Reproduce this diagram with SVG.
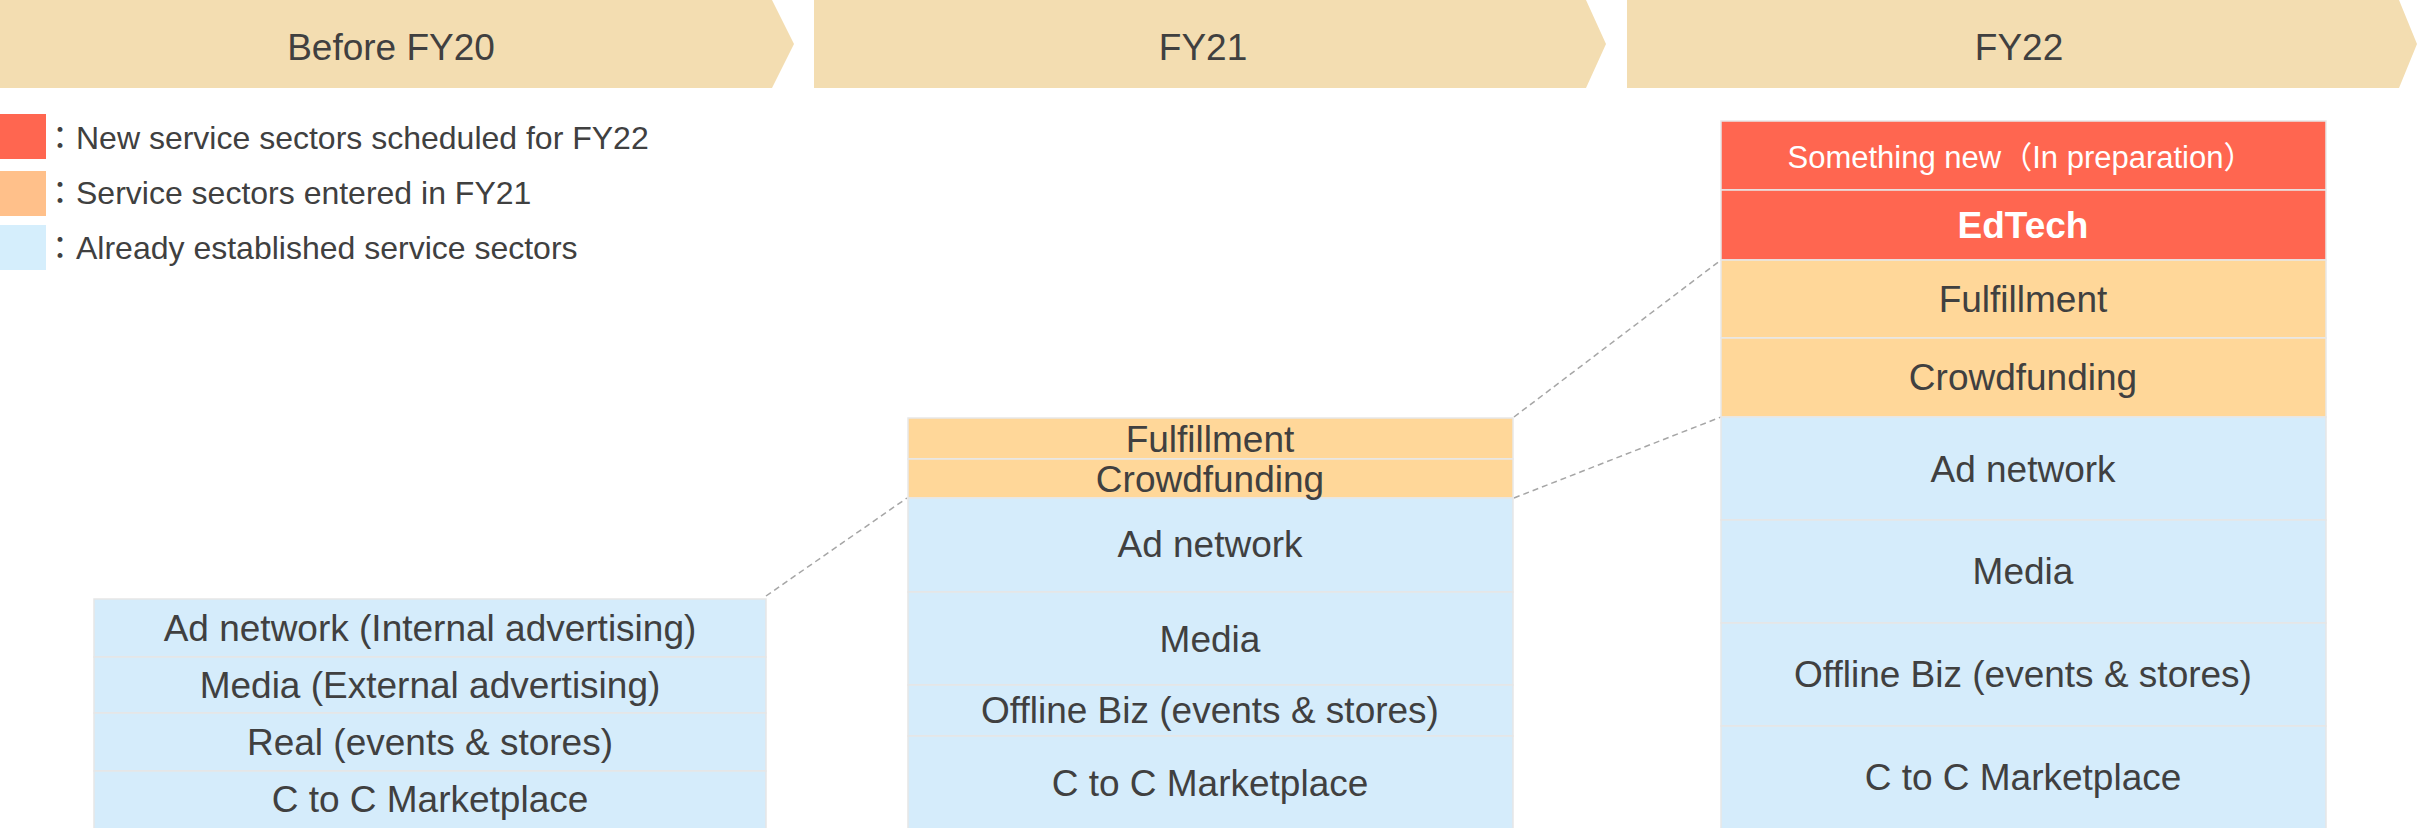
<svg xmlns="http://www.w3.org/2000/svg" width="2417" height="828" viewBox="0 0 2417 828">
<style>
text{font-family:"Liberation Sans",Arial,"Noto Sans CJK JP",sans-serif;fill:#404040;}
.hdr{fill:#F3DDB1;}
.hdrt{font-size:37px;text-anchor:middle;}
.leg{font-size:32px;}
.t{font-size:37px;text-anchor:middle;}
.w{fill:#FFFFFF;}
.red{fill:#FF6650;stroke:#E8E8E8;stroke-width:1.5;}
.org{fill:#FFD799;stroke:#E8E8E8;stroke-width:1.5;}
.blu{fill:#D5ECFB;stroke:#E6E6E6;stroke-width:1.5;}
.dash{stroke:#A6A6A6;stroke-width:1.5;stroke-dasharray:6 4;fill:none;}
</style>
<g id="headers">
<g id="hdr-fy20"><polygon class="hdr" points="0,0 772,0 794,44 772,88 0,88"/><text class="hdrt" x="391" y="60">Before FY20</text></g>
<g id="hdr-fy21"><polygon class="hdr" points="814,0 1586,0 1606,44 1586,88 814,88"/><text class="hdrt" x="1203" y="60">FY21</text></g>
<g id="hdr-fy22"><polygon class="hdr" points="1627,0 2399,0 2417,44 2399,88 1627,88"/><text class="hdrt" x="2019" y="60">FY22</text></g>
</g>
<g id="legend">
<rect x="0" y="114" width="46" height="45" fill="#FF6650"/>
<text class="leg" x="44" y="149">：New service sectors scheduled for FY22</text>
<rect x="0" y="171" width="46" height="45" fill="#FFC08A"/>
<text class="leg" x="44" y="204">：Service sectors entered in FY21</text>
<rect x="0" y="225" width="46" height="45" fill="#D5EEFC"/>
<text class="leg" x="44" y="259">：Already established service sectors</text>
</g>
<g id="connectors">
<line class="dash" x1="766" y1="596" x2="907" y2="498"/>
<line class="dash" x1="1514" y1="417" x2="1721" y2="260"/>
<line class="dash" x1="1514" y1="498" x2="1721" y2="417"/>
</g>
<g id="fy20">
<rect class="blu" x="94" y="599" width="672" height="58"/>
<rect class="blu" x="94" y="657" width="672" height="56"/>
<rect class="blu" x="94" y="713" width="672" height="58"/>
<rect class="blu" x="94" y="771" width="672" height="58"/>
<text class="t" x="430" y="641">Ad network (Internal advertising)</text>
<text class="t" x="430" y="698">Media (External advertising)</text>
<text class="t" x="430" y="755">Real (events &amp; stores)</text>
<text class="t" x="430" y="812">C to C Marketplace</text>
</g>
<g id="fy21">
<rect class="org" x="908" y="418" width="605" height="41"/>
<rect class="org" x="908" y="459" width="605" height="39"/>
<rect class="blu" x="908" y="498" width="605" height="94"/>
<rect class="blu" x="908" y="592" width="605" height="93"/>
<rect class="blu" x="908" y="685" width="605" height="51"/>
<rect class="blu" x="908" y="736" width="605" height="93"/>
<text class="t" x="1210" y="452">Fulfillment</text>
<text class="t" x="1210" y="492">Crowdfunding</text>
<text class="t" x="1210" y="557">Ad network</text>
<text class="t" x="1210" y="652">Media</text>
<text class="t" x="1210" y="723">Offline Biz (events &amp; stores)</text>
<text class="t" x="1210" y="796">C to C Marketplace</text>
</g>
<g id="fy22">
<rect class="red" x="1721" y="121" width="605" height="69"/>
<rect class="red" x="1721" y="190" width="605" height="70"/>
<rect class="org" x="1721" y="260" width="605" height="78"/>
<rect class="org" x="1721" y="338" width="605" height="79"/>
<rect class="blu" x="1721" y="417" width="605" height="103"/>
<rect class="blu" x="1721" y="520" width="605" height="103"/>
<rect class="blu" x="1721" y="623" width="605" height="103"/>
<rect class="blu" x="1721" y="726" width="605" height="103"/>
<text class="t w" x="2021" y="168" style="font-size:31px">Something new（In preparation）</text>
<text class="t w" x="2023" y="238" style="font-weight:bold">EdTech</text>
<text class="t" x="2023" y="312">Fulfillment</text>
<text class="t" x="2023" y="390">Crowdfunding</text>
<text class="t" x="2023" y="482">Ad network</text>
<text class="t" x="2023" y="584">Media</text>
<text class="t" x="2023" y="687">Offline Biz (events &amp; stores)</text>
<text class="t" x="2023" y="790">C to C Marketplace</text>
</g>
</svg>
